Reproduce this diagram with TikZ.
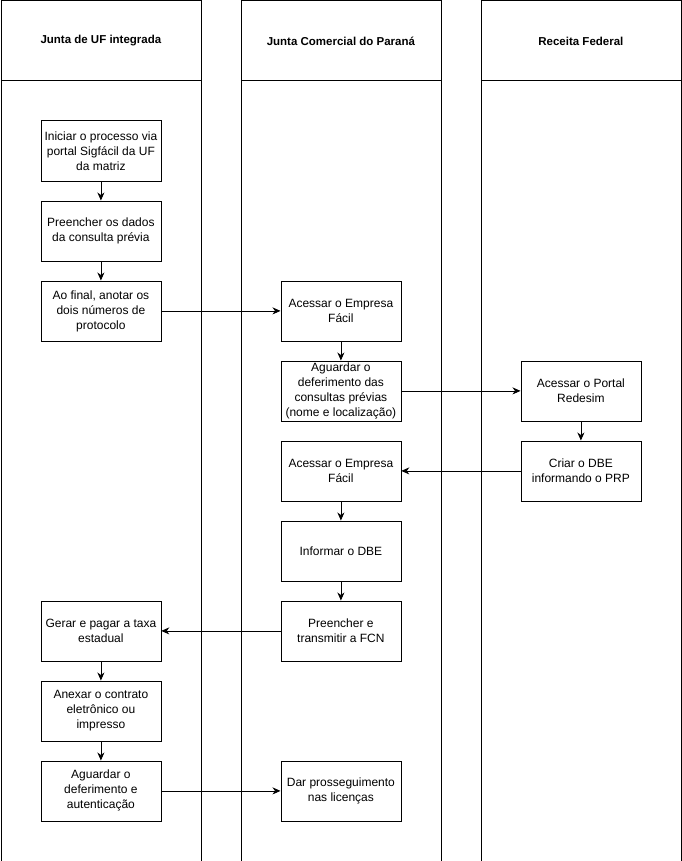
\documentclass[tikz,border=0pt]{standalone}
\usepackage{fontspec}
\setmainfont{Liberation Sans}
\usetikzlibrary{arrows.meta}
\begin{document}
\begin{tikzpicture}[x=1pt,y=-1pt,
  lane/.style={draw,line width=0.8pt,minimum width=200pt,minimum height=780pt,inner sep=0pt,anchor=north west},
  head/.style={draw,line width=0.8pt,minimum width=200pt,minimum height=80pt,inner sep=0pt,anchor=north west,font=\fontsize{11.5}{14}\selectfont\bfseries},
  box/.style={draw,line width=0.8pt,minimum width=120pt,minimum height=60pt,inner sep=0pt,align=center,anchor=north west,font=\fontsize{12}{15}\selectfont},
  arr/.style={-{Stealth[length=8pt,width=7pt,inset=2.5pt]},line width=0.8pt}]
\useasboundingbox (0,0) rectangle (681,861);
% lanes
\node[head] (h1) at (0.5,0.5) {Junta de UF integrada};
\node[lane] (l1) at (0.5,80.5) {};
\node[head] (h2) at (240.5,0.5) {Junta Comercial do Paraná};
\node[lane] (l2) at (240.5,80.5) {};
\node[head] (h3) at (480.5,0.5) {Receita Federal};
\node[lane] (l3) at (480.5,80.5) {};
% lane 1
\node[box] (a1) at (40.5,120.5) {Iniciar o processo via\\portal Sigfácil da UF\\da matriz};
\node[box] (a2) at (40.5,200.5) {Preencher os dados\\da consulta prévia};
\node[box] (a3) at (40.5,280.5) {Ao final, anotar os\\dois números de\\protocolo};
\node[box] (a4) at (40.5,600.5) {Gerar e pagar a taxa\\estadual};
\node[box] (a5) at (40.5,680.5) {Anexar o contrato\\eletrônico ou\\impresso};
\node[box] (a6) at (40.5,760.5) {Aguardar o\\deferimento e\\autenticação};
% lane 2
\node[box] (b1) at (280.5,280.5) {Acessar o Empresa\\Fácil};
\node[box] (b2) at (280.5,360.5) {Aguardar o\\deferimento das\\consultas prévias\\(nome e localização)};
\node[box] (b3) at (280.5,440.5) {Acessar o Empresa\\Fácil};
\node[box] (b4) at (280.5,520.5) {Informar o DBE};
\node[box] (b5) at (280.5,600.5) {Preencher e\\transmitir a FCN};
\node[box] (b6) at (280.5,760.5) {Dar prosseguimento\\nas licenças};
% lane 3
\node[box] (c1) at (520.5,360.5) {Acessar o Portal\\Redesim};
\node[box] (c2) at (520.5,440.5) {Criar o DBE\\informando o PRP};
% arrows
\draw[arr] (a1) -- (a2);
\draw[arr] (a2) -- (a3);
\draw[arr] (a3) -- (b1);
\draw[arr] (b1) -- (b2);
\draw[arr] (b2) -- (c1);
\draw[arr] (c1) -- (c2);
\draw[arr] (c2) -- (b3);
\draw[arr] (b3) -- (b4);
\draw[arr] (b4) -- (b5);
\draw[arr] (b5) -- (a4);
\draw[arr] (a4) -- (a5);
\draw[arr] (a5) -- (a6);
\draw[arr] (a6) -- (b6);
\end{tikzpicture}
\end{document}
